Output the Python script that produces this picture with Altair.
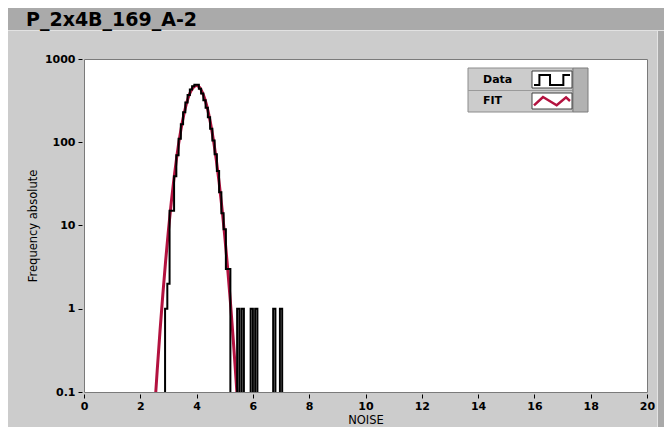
import altair as alt
import pandas as pd

# ---------------- data ----------------
# Measured histogram ("Data"): bins of width 0.08 starting at 2.80
bin_start = 2.80
bin_width = 0.08
data_counts = [0, 1, 2, 15, 15, 39, 70, 110, 165, 230, 300, 370, 430, 470, 490,
               490, 440, 385, 320, 260, 200, 145, 105, 72, 45, 25, 14, 9, 3, 3,
               0, 0, 0, 1, 0, 1, 0, 0, 0, 1, 0, 1, 0, 0, 0, 0, 0, 0, 0, 1,
               0, 0, 1, 0]

# Gaussian fit curve ("FIT") read at 0.1 steps
fit_x = [2.5, 2.6, 2.7, 2.8, 2.9, 3.0, 3.1, 3.2, 3.3, 3.4, 3.5, 3.6, 3.7, 3.8,
         3.9, 4.0, 4.1, 4.2, 4.3, 4.4, 4.5, 4.6, 4.7, 4.8, 4.9, 5.0, 5.1, 5.2,
         5.3, 5.4, 5.5]
fit_y = [0.056, 0.18, 0.54, 1.48, 3.76, 8.79, 18.9, 37.6, 68.7, 116, 180, 258,
         341, 414, 464, 480, 457, 401, 324, 242, 166, 105, 61.3, 33.0, 16.3,
         7.46, 3.14, 1.22, 0.436, 0.144, 0.044]

x_ticks = [0, 2, 4, 6, 8, 10, 12, 14, 16, 18, 20]
y_ticks = [0.1, 1, 10, 100, 1000]
title_text = "P_2x4B_169_A-2"
x_title = "NOISE"
y_title = "Frequency absolute"
legend_labels = ["Data", "FIT"]

FONT = "DejaVu Sans"
RED = "#b3123f"

# ---------------- tables ----------------
edges = [round(bin_start + bin_width * i, 2) for i in range(len(data_counts) + 1)]
hist_y = [c if c > 0 else 0.001 for c in data_counts] + [0.001]  # empty bins drop off the log axis
hist_df = pd.DataFrame({"x": edges, "y": hist_y})
fit_df = pd.DataFrame({"x": fit_x, "y": fit_y})
dummy = pd.DataFrame({"d": [0]})

axis_common = dict(
    grid=False, domain=False, tickSize=4, offset=2, tickColor="#000000",
    labelFont=FONT, labelFontSize=11, labelFontWeight="bold", labelColor="#000000",
    labelFlush=False,
    titleFont=FONT, titleFontSize=11.5, titleFontWeight="normal", titleColor="#000000",
)

x_enc = alt.X("x:Q", scale=alt.Scale(domain=[0, 20], nice=False, zero=False, padding=0),
              axis=alt.Axis(values=x_ticks, title=x_title, labelPadding=2,
                            titlePadding=3, **axis_common))
y_enc = alt.Y("y:Q", scale=alt.Scale(type="log", domain=[0.1, 1000], nice=False, padding=0),
              axis=alt.Axis(values=y_ticks, format="~g", title=y_title,
                            labelPadding=3, titlePadding=6, **axis_common))


def rect(x, x2, y, y2, fill, stroke=None, sw=1):
    kw = dict(fill=fill)
    if stroke:
        kw.update(stroke=stroke, strokeWidth=sw)
    else:
        kw.update(strokeWidth=0)
    return alt.Chart(dummy).mark_rect(**kw).encode(
        x=alt.value(x), x2=alt.value(x2), y=alt.value(y), y2=alt.value(y2))


def text(t, x, y, size=11, weight="bold", baseline="middle"):
    return alt.Chart(dummy).mark_text(
        text=t, align="left", baseline=baseline, font=FONT, fontSize=size,
        fontWeight=weight, color="#000000").encode(x=alt.value(x), y=alt.value(y))


# ---------------- decorations ----------------
band = rect(-76, 580, -51, -29, "#aaaaaa")
band_edge = rect(-76, 580, -29, -28, "#e2e2e2")
right_strip = rect(574, 580, -28, 368, "#a9a9a9")
right_light = rect(573, 574, -28, 368, "#e4e4e4")

# ---------------- series ----------------
fit_line = alt.Chart(fit_df).mark_line(
    color=RED, strokeWidth=3, clip=True, interpolate="monotone").encode(x=x_enc, y=y_enc)
data_line = alt.Chart(hist_df).mark_line(
    color="#000000", strokeWidth=2, clip=True, interpolate="step-after",
    strokeJoin="miter").encode(x=x_enc, y=y_enc)

# ---------------- legend ----------------
leg_box = rect(384, 489, 9, 53, "#cccccc", "#8c8c8c")
leg_split = rect(384, 489, 31, 32, "#9a9a9a")
leg_side = rect(489, 504, 9, 53, "#b2b2b2", "#7c7c7c")
sw_data = rect(448, 488, 12, 29, "#ffffff", "#404040")
sw_fit = rect(448, 488, 34, 50, "#ffffff", "#404040")
lab_data = text(legend_labels[0], 399, 21)
lab_fit = text(legend_labels[1], 399, 42)
square_wave = "M -1 0.28 L -0.7 0.28 L -0.7 -0.28 L -0.11 -0.28 L -0.11 0.28 L 0.63 0.28 L 0.63 -0.28 L 1 -0.28"
zigzag = "M -1 0.24 L -0.5 -0.22 L 0.26 0.24 L 0.78 -0.2 L 1 0.0"
g_data = alt.Chart(dummy).mark_point(
    shape=square_wave, size=1296, filled=False, stroke="#000000", strokeWidth=2,
    opacity=1, strokeJoin="miter").encode(x=alt.value(468), y=alt.value(21))
g_fit = alt.Chart(dummy).mark_point(
    shape=zigzag, size=1296, filled=False, stroke=RED, strokeWidth=2.5,
    opacity=1).encode(x=alt.value(468), y=alt.value(42))

title_mark = text(title_text, -58, -33, size=19, weight="bold", baseline="alphabetic")

chart = alt.layer(
    band, band_edge, right_strip, right_light,
    fit_line, data_line,
    leg_box, leg_split, leg_side, sw_data, sw_fit, lab_data, lab_fit, g_data, g_fit,
    title_mark,
).properties(
    width=563, height=333,
    padding={"left": 76, "top": 51, "right": 17, "bottom": 35},
    autosize=alt.AutoSizeParams(type="none"),
).configure(
    background="#cccccc", font=FONT,
).configure_view(
    fill="#ffffff", stroke="#7a7a7a", strokeWidth=1,
)

chart.save("out.html", embed_options={"renderer": "svg", "actions": False})
